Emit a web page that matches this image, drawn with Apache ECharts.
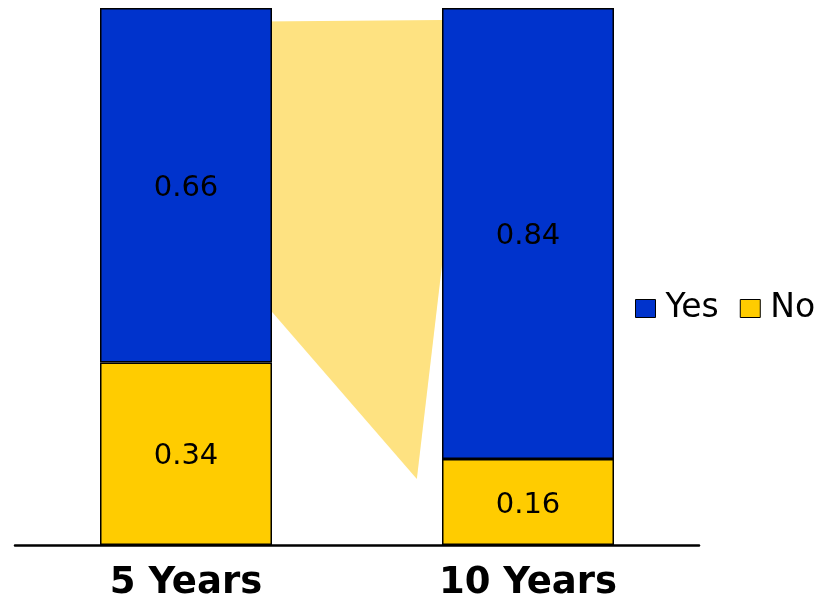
<!DOCTYPE html>
<html>
<head>
<meta charset="utf-8">
<title>Yes / No by horizon</title>
<script src="https://cdn.jsdelivr.net/npm/echarts@6/dist/echarts.min.js"></script>
<style>
  html, body { margin: 0; padding: 0; background: #ffffff; }
  #chart { width: 819px; height: 599px; }
</style>
</head>
<body>
<div id="chart"></div>
<script>
// Categories and stacked shares
const categories = ['5 Years', '10 Years'];
const yesValues = [0.66, 0.84];
const noValues = [0.34, 0.16];

// Pale connector band between the two columns, as [x, share] pairs
// (x runs -0.5 .. 1.5 across the two category bands)
const ribbonPoints = [
  [0.22, 0.975],
  [0.833, 0.978],
  [0.675, 0.123],
  [0.22, 0.457]
];

const BLUE = '#0033CC';
const YELLOW = '#FFCC00';
const RIBBON = '#FEE281';
const FONT = 'DejaVu Sans, Verdana, sans-serif';

const chart = echarts.init(document.getElementById('chart'), null, { renderer: 'canvas' });

const valueLabel = {
  show: true,
  position: 'inside',
  offset: [0, 3],
  color: '#000',
  fontFamily: FONT,
  fontSize: 29,
  formatter: p => p.value.toFixed(2)
};

chart.setOption({
  animation: false,
  backgroundColor: '#ffffff',
  grid: { left: 15, right: 120, top: 8, bottom: 54, containLabel: false, outerBoundsMode: 'none' },
  legend: {
    data: ['Yes', 'No'],
    orient: 'horizontal',
    left: 635,
    top: 292,
    width: 240,
    padding: 0,
    icon: 'rect',
    itemWidth: 20,
    itemHeight: 18,
    itemGap: 21,
    textStyle: { fontFamily: FONT, fontSize: 33, color: '#000', padding: [0, 0, 0, 5] },
    itemStyle: { borderColor: '#000', borderWidth: 1 }
  },
  xAxis: [
    {
      type: 'category',
      data: categories,
      boundaryGap: true,
      axisLine: { show: true, lineStyle: { color: '#000', width: 2.5 } },
      axisTick: { show: false },
      axisLabel: {
        color: '#000',
        fontFamily: FONT,
        fontWeight: 'bold',
        fontSize: 37,
        margin: 20
      }
    },
    {
      type: 'value',
      min: -0.5,
      max: 1.5,
      show: false
    }
  ],
  yAxis: {
    type: 'value',
    min: 0,
    max: 1,
    show: false,
    splitLine: { show: false }
  },
  series: [
    {
      type: 'custom',
      xAxisIndex: 1,
      z: 1,
      silent: true,
      data: ribbonPoints,
      renderItem: (params, api) => {
        if (params.dataIndex !== 0) return null;
        const pts = ribbonPoints.map(p => api.coord(p));
        return {
          type: 'polygon',
          shape: { points: pts },
          style: { fill: RIBBON, stroke: null }
        };
      }
    },
    {
      name: 'No',
      type: 'bar',
      stack: 'share',
      z: 3,
      barWidth: 172,
      data: noValues,
      itemStyle: { color: YELLOW, borderColor: '#000', borderWidth: 1.5 },
      label: valueLabel
    },
    {
      name: 'Yes',
      type: 'bar',
      stack: 'share',
      z: 3,
      barWidth: 172,
      data: yesValues,
      itemStyle: { color: BLUE, borderColor: '#000', borderWidth: 1.5 },
      label: valueLabel
    }
  ]
});
</script>
</body>
</html>
